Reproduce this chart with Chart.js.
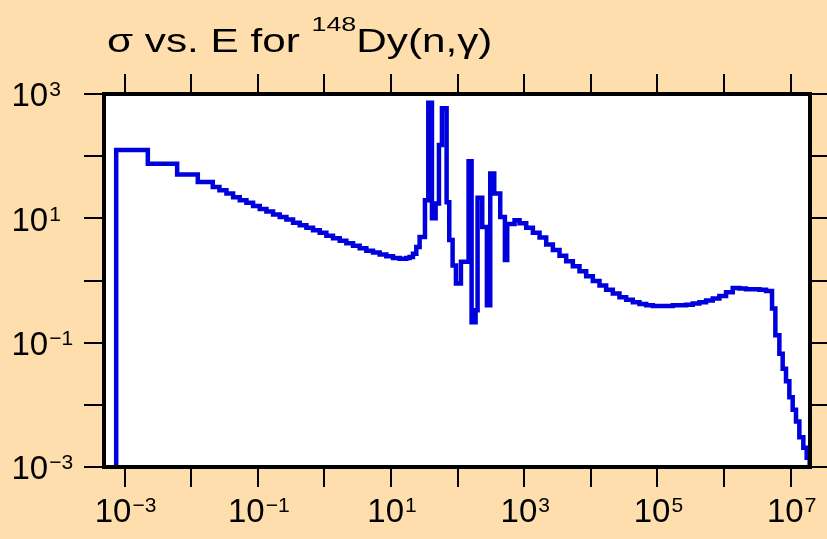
<!DOCTYPE html>
<html>
<head>
<meta charset="utf-8">
<script src="https://cdn.jsdelivr.net/npm/chart.js@4/dist/chart.umd.min.js"></script>
<style>
  html, body { margin: 0; padding: 0; background: #ffdead; }
  canvas { display: block; }
</style>
</head>
<body>
<canvas id="chart" width="827" height="539"></canvas>
<script>
// values, kept as powers of ten
// energy in eV, cross section in barns
// low energy part (first point is the floor the curve rises from)
const lowEnergyExp = [-3.125, -3.125, -2.65, -2.21, -1.90, -1.675, -1.575, -1.47, -1.37, -1.27, -1.17, -1.07,
  -0.97, -0.87, -0.77, -0.67, -0.57, -0.47, -0.37, -0.27, -0.17, -0.07, 0.03, 0.13, 0.23, 0.33, 0.43,
  0.53, 0.63, 0.73, 0.83, 0.93, 1.03, 1.13, 1.23];
const lowSigmaExp = [-3, 2.10, 1.88, 1.705, 1.585, 1.505, 1.45, 1.40, 1.34, 1.29, 1.25, 1.20,
  1.15, 1.11, 1.06, 1.02, 0.98, 0.93, 0.89, 0.85, 0.81, 0.77, 0.72, 0.68, 0.64, 0.60, 0.56,
  0.52, 0.48, 0.45, 0.42, 0.39, 0.36, 0.35, 0.36];

// resolved resonance region (bin left edges)
const resEnergyExp = [1.28, 1.33, 1.38, 1.43, 1.51, 1.56, 1.615, 1.67, 1.72, 1.765, 1.835, 1.875, 1.925,
  1.975, 2.05, 2.165, 2.21, 2.27, 2.30, 2.37, 2.44, 2.49, 2.55, 2.64, 2.71, 2.745, 2.855];
const resSigmaExp = [0.38, 0.43, 0.54, 0.70, 1.29, 2.86, 1.00, 1.24, 2.18, 2.77, 1.26, 0.65, 0.24,
  -0.05, 0.30, 1.92, -0.67, -0.48, 1.33, 0.86, -0.40, 1.72, 1.40, 1.02, 0.33, 0.91, 0.97];

// fast region and high energy tail (last point drops to the floor)
const highEnergyExp = [2.93, 3.03, 3.13, 3.23, 3.33, 3.43, 3.53, 3.63, 3.73, 3.83, 3.93, 4.03, 4.13,
  4.23, 4.33, 4.43, 4.53, 4.63, 4.73, 4.83, 4.93, 5.03, 5.13, 5.23, 5.33, 5.43, 5.53, 5.63, 5.73,
  5.83, 5.93, 6.03, 6.13, 6.23, 6.33, 6.43, 6.53, 6.63, 6.72, 6.77, 6.83, 6.88, 6.93, 6.98, 7.03,
  7.08, 7.13, 7.19, 7.24, 7.285];
const highSigmaExp = [0.92, 0.85, 0.77, 0.69, 0.58, 0.49, 0.40, 0.31, 0.23, 0.15, 0.07, -0.01, -0.08,
  -0.15, -0.21, -0.27, -0.31, -0.35, -0.38, -0.40, -0.41, -0.41, -0.41, -0.40, -0.40, -0.39, -0.37, -0.35, -0.32,
  -0.29, -0.25, -0.19, -0.12, -0.13, -0.14, -0.14, -0.15, -0.17, -0.45, -0.88, -1.18, -1.42, -1.62, -1.88, -2.08,
  -2.27, -2.52, -2.69, -2.85, -3];

// decade ticks
const xDecades = [-3, -2, -1, 0, 1, 2, 3, 4, 5, 6, 7];
const yDecades = [-3, -2, -1, 0, 1, 2, 3];
const xLabelDecades = [-3, -1, 1, 3, 5, 7];
const yLabelDecades = [-3, -1, 1, 3];

const xMin = Math.pow(10, -3.308);
const xMax = Math.pow(10, 7.29);
const yMin = 1e-3;
const yMax = 1e3;

const FONT = '"Liberation Sans", Arial, Helvetica, sans-serif';

// join the pieces into one stepped curve
const energyExp = lowEnergyExp.concat(resEnergyExp, highEnergyExp);
const sigmaExp = lowSigmaExp.concat(resSigmaExp, highSigmaExp);
let points = [];
for (let i = 0; i < energyExp.length; i++) {
  points.push({ x: Math.pow(10, energyExp[i]), y: Math.pow(10, sigmaExp[i]) });
}

function decadeTicks(list) {
  return function (scale) {
    scale.ticks = list.map(d => ({ value: Math.pow(10, d) }));
  };
}

function axisOpts(position, min, max, list, fit) {
  return {
    type: 'logarithmic',
    position: position,
    min: min,
    max: max,
    bounds: 'data',
    ticks: { display: false },
    border: { display: false },
    grid: {
      drawOnChartArea: false,
      drawTicks: true,
      tickLength: 20,
      tickWidth: 2,
      tickColor: '#000',
      lineWidth: 2,
      color: '#000'
    },
    afterBuildTicks: decadeTicks(list),
    afterFit: fit
  };
}

// "10" with a raised exponent, real minus sign for negatives
function drawPower(ctx, x, baseline, exp, centered) {
  ctx.font = '33px ' + FONT;
  const wBase = ctx.measureText('10').width;
  ctx.font = '21px ' + FONT;
  const expText = exp < 0 ? '\u2212' + Math.abs(exp) : String(exp);
  const wExp = ctx.measureText(expText).width;
  const gap = 1;
  let left = centered ? x - (wBase + gap + wExp) / 2 : x;
  ctx.font = '33px ' + FONT;
  ctx.fillText('10', left, baseline);
  ctx.font = '21px ' + FONT;
  ctx.fillText(expText, left + wBase + gap, baseline - 10);
}

const framePlugin = {
  id: 'frame',
  beforeDraw(chart) {
    const { ctx, chartArea: a } = chart;
    ctx.save();
    ctx.fillStyle = '#ffffff';
    ctx.fillRect(a.left, a.top, a.right - a.left, a.bottom - a.top);
    ctx.restore();
  },
  afterDraw(chart) {
    const { ctx, chartArea: a } = chart;
    ctx.save();
    // thick box round the plot
    ctx.strokeStyle = '#000';
    ctx.lineWidth = 4;
    ctx.strokeRect(a.left, a.top, a.right - a.left, a.bottom - a.top);

    ctx.fillStyle = '#000';
    ctx.textAlign = 'left';
    ctx.textBaseline = 'alphabetic';

    // y labels, left aligned
    const ys = chart.scales.y;
    yLabelDecades.forEach(d => {
      const py = ys.getPixelForValue(Math.pow(10, d));
      drawPower(ctx, 11.5, py + 12.2, d, false);
    });

    // x labels, centred under the ticks
    const xs = chart.scales.x;
    xLabelDecades.forEach(d => {
      const px = xs.getPixelForValue(Math.pow(10, d));
      drawPower(ctx, px + 1, 522, d, true);
    });

    // title, text in the original is stretched sideways
    ctx.translate(107, 52);
    ctx.scale(1.28, 1);
    let tx = 0;
    ctx.font = '33px ' + FONT;
    ctx.fillText('\u03C3 vs. E for ', tx, 0);
    tx += ctx.measureText('\u03C3 vs. E for ').width;
    ctx.font = '21px ' + FONT;
    ctx.fillText('148', tx, -21);
    tx += ctx.measureText('148').width;
    ctx.font = '33px ' + FONT;
    ctx.fillText('Dy(n,\u03B3)', tx, 0);
    ctx.restore();
  }
};

const ctx = document.getElementById('chart').getContext('2d');

const config = {
  type: 'line',
  data: {
    datasets: [{
      data: points,
      borderColor: '#0000dd',
      borderWidth: 4.5,
      pointRadius: 0,
      stepped: 'before',
      fill: false,
      tension: 0
    }]
  },
  options: {
    responsive: false,
    animation: false,
    layout: { padding: 0 },
    plugins: {
      legend: { display: false },
      tooltip: { enabled: false },
      title: { display: false }
    },
    scales: {
      x: axisOpts('bottom', xMin, xMax, xDecades, s => { s.height = 72; }),
      x2: axisOpts('top', xMin, xMax, xDecades, s => { s.height = 94; }),
      y: axisOpts('left', yMin, yMax, yDecades, s => { s.width = 104; }),
      y2: axisOpts('right', yMin, yMax, yDecades, s => { s.width = 17; })
    }
  },
  plugins: [framePlugin]
};

const chart = new Chart(ctx, config);
</script>
</body>
</html>
